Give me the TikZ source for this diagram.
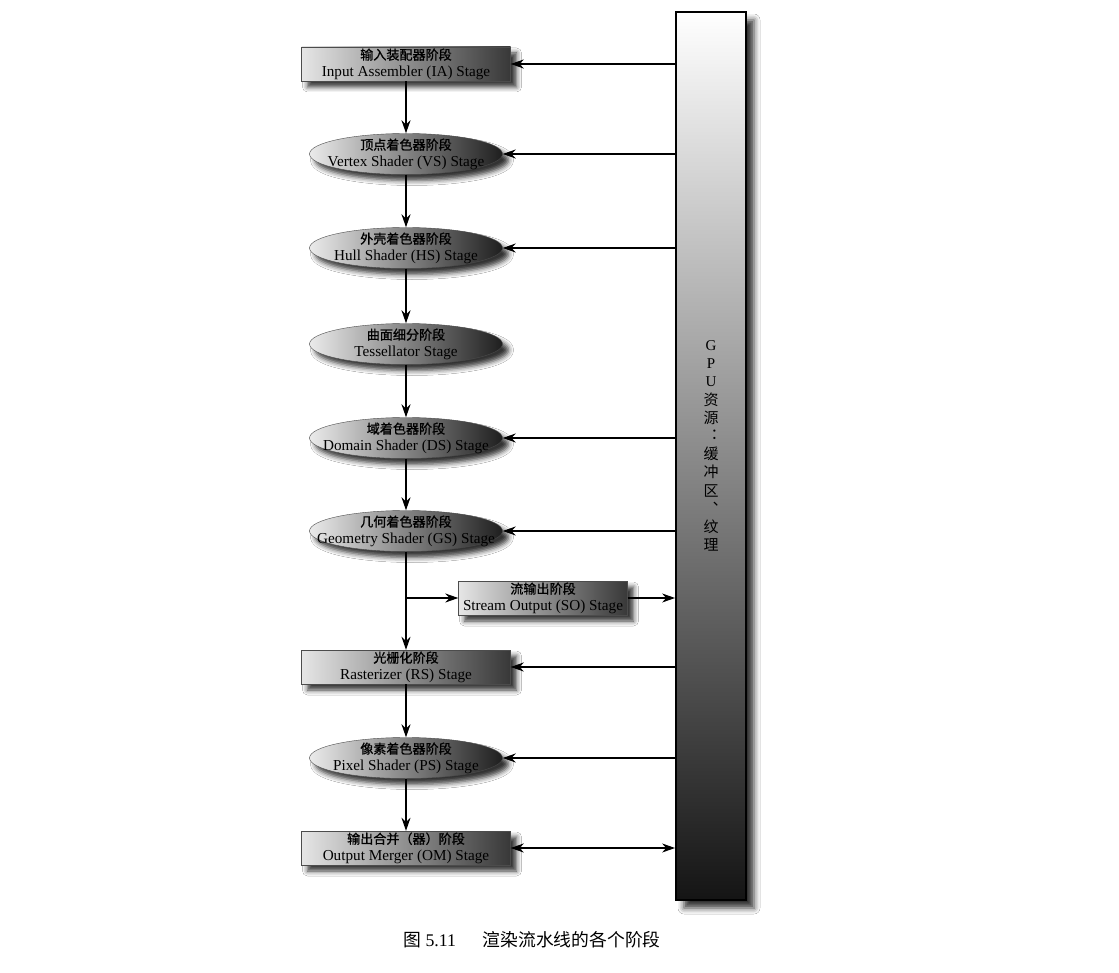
\documentclass[tikz,border=0pt]{standalone}
\usepackage{fontspec}
\setmainfont{Liberation Serif}
\newfontfamily\cjk[Scale=0.86, FakeBold=1]{Noto Sans CJK SC}
\newfontfamily\cjkcap{Noto Sans CJK SC}
\usetikzlibrary{shapes.geometric, arrows.meta, shadows.blur}

\begin{document}
\begin{tikzpicture}[x=1pt, y=-1pt,
    >={Stealth[length=13pt,width=9pt]},
    line/.style={black, line width=1.3pt},
    stagebox/.style={rectangle, draw=black!70, left color=black!10, right color=black!78,
      minimum width=209pt, minimum height=34pt, inner sep=0pt, align=center,
      font=\fontsize{15.2}{16.5}\selectfont,
      blur shadow={shadow xshift=6pt, shadow yshift=-6pt, shadow blur radius=5pt, shadow opacity=80}},
    stageoval/.style={ellipse, draw=black!70, left color=black!8, right color=black!88,
      minimum width=193pt, minimum height=41pt, inner xsep=-40pt, inner ysep=-10pt, align=center,
      font=\fontsize{15.2}{16.5}\selectfont,
      blur shadow={shadow xshift=6pt, shadow yshift=-6pt, shadow blur radius=5pt, shadow opacity=80}},
    gpubar/.style={rectangle, draw=black, line width=1.8pt, top color=white, bottom color=black!92,
      minimum width=70pt, minimum height=888pt, inner sep=0pt,
      blur shadow={shadow xshift=8pt, shadow yshift=-8pt, shadow blur radius=6pt, shadow opacity=80}}]
  \useasboundingbox[fill=white] (0,0) rectangle (1119,973);

  % resource bar
  \node[gpubar] (gpu) at (711,456) {};
  \node[align=center, font=\fontsize{15}{18.2}\selectfont] (gputxt) at (711,446)
    {G\\P\\U\\{\cjkcap 资}\\{\cjkcap 源}\\{\cjkcap ︓}\\{\cjkcap 缓}\\{\cjkcap 冲}\\{\cjkcap 区}\\{\cjkcap ︑}\\{\cjkcap 纹}\\{\cjkcap 理}};

  % stages
  \node[stagebox] (ia) at (406,64) {{\cjk 输入装配器阶段}\\Input Assembler (IA) Stage};
  \node[stageoval] (vs) at (406,154) {{\cjk 顶点着色器阶段}\\Vertex Shader (VS) Stage};
  \node[stageoval] (hs) at (406,248) {{\cjk 外壳着色器阶段}\\Hull Shader (HS) Stage};
  \node[stageoval] (ts) at (406,344) {{\cjk 曲面细分阶段}\\Tessellator Stage};
  \node[stageoval] (ds) at (406,438) {{\cjk 域着色器阶段}\\Domain Shader (DS) Stage};
  \node[stageoval] (gs) at (406,531) {{\cjk 几何着色器阶段}\\Geometry Shader (GS) Stage};
  \node[stagebox, minimum width=169pt] (so) at (543,598) {{\cjk 流输出阶段}\\Stream Output (SO) Stage};
  \node[stagebox] (rs) at (406,667) {{\cjk 光栅化阶段}\\Rasterizer (RS) Stage};
  \node[stageoval] (ps) at (406,758) {{\cjk 像素着色器阶段}\\Pixel Shader (PS) Stage};
  \node[stagebox] (om) at (406,848) {{\cjk 输出合并（器）阶段}\\Output Merger (OM) Stage};

  % pipeline flow
  \draw[line,->] (ia) -- (vs);
  \draw[line,->] (vs) -- (hs);
  \draw[line,->] (hs) -- (ts);
  \draw[line,->] (ts) -- (ds);
  \draw[line,->] (ds) -- (gs);
  \draw[line,->] (gs) -- (rs);
  \draw[line,->] (gs.south |- so) -- (so);
  \draw[line,->] (so) -- (gpu.west |- so);
  \draw[line,->] (rs) -- (ps);
  \draw[line,->] (ps) -- (om);

  % resource access
  \draw[line,->] (gpu.west |- ia) -- (ia);
  \draw[line,->] (gpu.west |- vs) -- (vs);
  \draw[line,->] (gpu.west |- hs) -- (hs);
  \draw[line,->] (gpu.west |- ds) -- (ds);
  \draw[line,->] (gpu.west |- gs) -- (gs);
  \draw[line,->] (gpu.west |- rs) -- (rs);
  \draw[line,->] (gpu.west |- ps) -- (ps);
  \draw[line,<->] (om) -- (gpu.west |- om);

  \node[font=\fontsize{17.8}{20}\selectfont] (caption) at (532,940) {{\cjkcap 图} 5.11\hspace{1.5em}{\cjkcap 渲染流水线的各个阶段}};
\end{tikzpicture}
\end{document}
